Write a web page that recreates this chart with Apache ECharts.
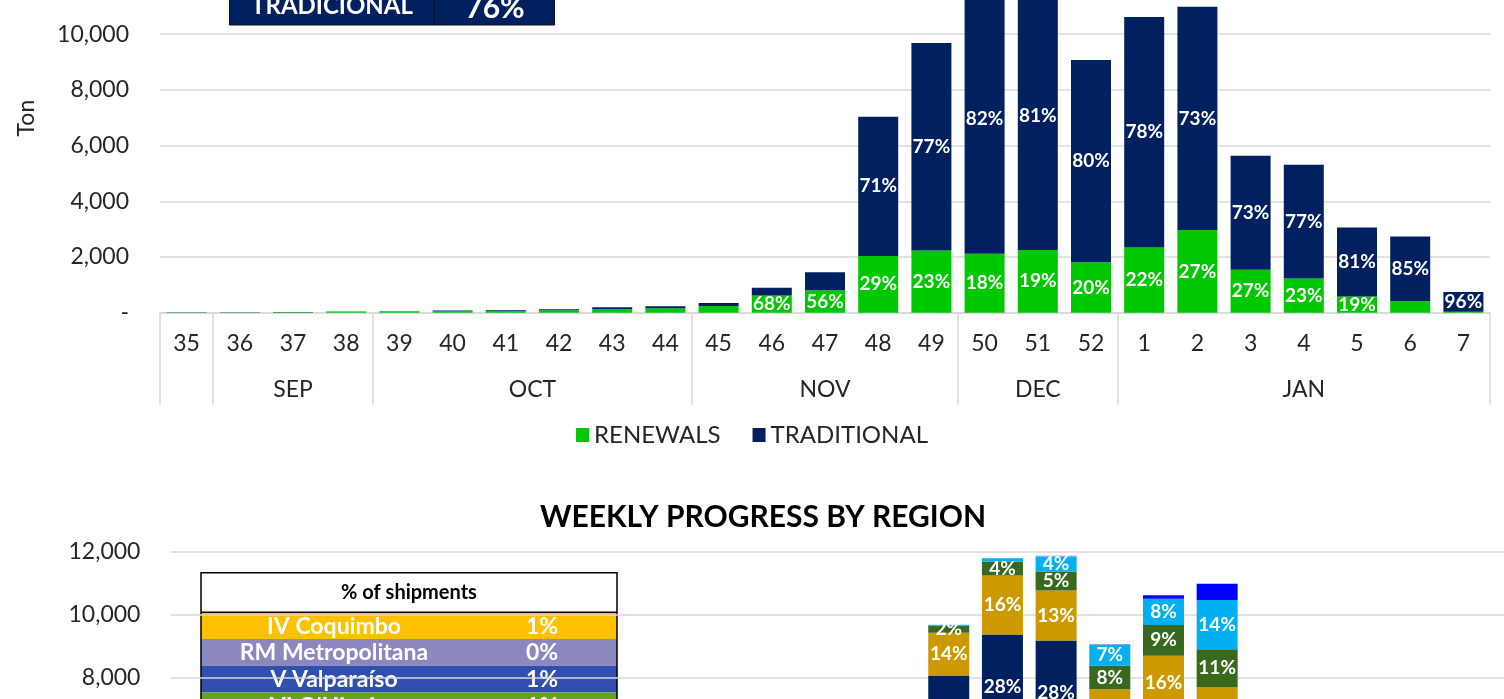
<!DOCTYPE html>
<html>
<head>
<meta charset="utf-8">
<title>Weekly shipments</title>
<script src="https://cdn.jsdelivr.net/npm/echarts@6/dist/echarts.min.js"></script>
<style>
  html, body { margin: 0; padding: 0; background: #fff; }
  #chart { width: 1504px; height: 699px; }
</style>
</head>
<body>
<div id="chart"></div>
<script>
// weeks on the axis, grouped by month
const weeks = ['35', '36', '37', '38', '39', '40', '41', '42', '43', '44', '45', '46', '47', '48', '49',
  '50', '51', '52', '1', '2', '3', '4', '5', '6', '7'];
const months = ['', 'SEP', 'OCT', 'NOV', 'DEC', 'JAN'];
const monthSpans = [1, 3, 6, 5, 3, 7];

// tons per week
const renewals = [10, 10, 20, 30, 40, 60, 70, 90, 130, 160, 240, 615, 810, 2040, 2230,
  2120, 2255, 1815, 2340, 2966, 1540, 1230, 580, 410, 30];
const traditional = [5, 5, 5, 10, 15, 20, 30, 30, 70, 70, 110, 285, 640, 5000, 7450,
  9672, 9615, 7255, 8276, 8020, 4100, 4080, 2480, 2330, 710];

const summaryRow = ['TRADICIONAL', '76%'];

// weekly progress by region (only weeks 49..2 reach the visible part)
const regionNames = ['X Los Lagos', 'IX Araucanía', 'VIII Biobío', 'VII Maule', "VI O'Higgins", 'V Valparaíso', 'RM Metropolitana'];
const regionColors = ['#a5a5a5', '#002060', '#cc9900', '#38691f', '#00b0f0', '#0000ff', '#8f86e8'];
const _ = null;
const regionValues = [
  [_, _, _, _, _, _, _, _, _, _, _, _, _, _, 5370, 6066, 5860, 3913, 4015, 3236, _, _, _, _, _],
  [_, _, _, _, _, _, _, _, _, _, _, _, _, _, 2700, 3302, 3324, 2540, 2970, 3070, _, _, _, _, _],
  [_, _, _, _, _, _, _, _, _, _, _, _, _, _, 1360, 1873, 1587, 1180, 1715, 1400, _, _, _, _, _],
  [_, _, _, _, _, _, _, _, _, _, _, _, _, _, 230, 445, 603, 750, 974, 1196, _, _, _, _, _],
  [_, _, _, _, _, _, _, _, _, _, _, _, _, _, 20, 106, 476, 667, 836, 1566, _, _, _, _, _],
  [_, _, _, _, _, _, _, _, _, _, _, _, _, _, _, _, _, _, 106, 518, _, _, _, _, _],
  [_, _, _, _, _, _, _, _, _, _, _, _, _, _, _, _, 20, 20, _, _, _, _, _, _, _]
];
const regionLabelled = [false, true, true, true, true, false, false];

const shipmentRegions = ['IV Coquimbo', 'RM Metropolitana', 'V Valparaíso', "VI O'Higgins"];
const shipmentShares = ['1%', '0%', '1%', '1%'];
const shipmentColors = ['#ffc000', '#8b88c0', '#304fae', '#6aa121'];

const FONT = 'Lato';
const GRID_LINE = '#d9d9d9';
const TEXT = '#262626';

// month axis: two slots per week, labels on group centres, ticks on group edges
const monthSlots = new Array(weeks.length * 2 + 1).fill('');
const monthEdges = [0];
let start = 0;
months.forEach((m, i) => {
  monthSlots[start * 2 + monthSpans[i]] = m;
  start += monthSpans[i];
  monthEdges.push(start * 2);
});

const weekTotals = weeks.map((w, i) => regionValues.reduce((s, arr) => s + (arr[i] || 0), 0));

const fmtTon = v => (v === 0 ? '-' : v.toLocaleString('en-US'));

const barLabel = {
  show: true,
  position: 'inside',
  color: '#fff',
  fontFamily: FONT,
  fontWeight: 'bold',
  fontSize: 19
};

const chart = echarts.init(document.getElementById('chart'));

const regionSeries = regionNames.map((name, k) => ({
  name: name,
  type: 'bar',
  stack: 'region',
  xAxisIndex: 2,
  yAxisIndex: 1,
  barWidth: 41,
  data: regionValues[k],
  itemStyle: { color: regionColors[k] },
  label: Object.assign({}, barLabel, {
    formatter: p => {
      if (!regionLabelled[k] || p.value == null) return '';
      const pct = Math.round(p.value / weekTotals[p.dataIndex] * 100);
      return pct >= 2 ? pct + '%' : '';
    }
  })
}));

chart.setOption({
  animation: false,
  textStyle: { fontFamily: FONT },
  title: {
    text: 'WEEKLY PROGRESS BY REGION',
    left: 758,
    top: 497,
    textAlign: 'center',
    textStyle: { fontFamily: FONT, fontSize: 30, fontWeight: 'bold', color: '#000' }
  },
  legend: {
    data: ['RENEWALS', 'TRADITIONAL'],
    left: 'center',
    top: 418,
    icon: 'rect',
    itemWidth: 13,
    itemHeight: 14,
    itemGap: 32,
    textStyle: { fontFamily: FONT, fontSize: 24, color: TEXT }
  },
  grid: [
    { left: 160, width: 1330, top: -21.5, height: 334.2, outerBoundsMode: 'none', containLabel: false },
    { left: 170.4, width: 1342, top: 551.7, height: 378, outerBoundsMode: 'none', containLabel: false }
  ],
  xAxis: [
    {
      type: 'category',
      gridIndex: 0,
      position: 'bottom',
      data: weeks,
      axisLine: { lineStyle: { color: GRID_LINE, width: 1.5 } },
      axisTick: { show: false },
      axisLabel: { interval: 0, margin: 19, fontSize: 23, color: TEXT, fontFamily: FONT }
    },
    {
      type: 'category',
      gridIndex: 0,
      position: 'bottom',
      boundaryGap: false,
      data: monthSlots,
      axisLine: { show: false },
      axisTick: {
        show: true,
        interval: idx => monthEdges.includes(idx),
        length: 92,
        lineStyle: { color: GRID_LINE, width: 1.5 }
      },
      axisLabel: { interval: 0, margin: 65, fontSize: 23, color: TEXT, fontFamily: FONT }
    },
    {
      type: 'category',
      gridIndex: 1,
      data: weeks,
      show: false
    }
  ],
  yAxis: [
    {
      type: 'value',
      gridIndex: 0,
      min: 0,
      max: 12000,
      interval: 2000,
      name: 'Ton',
      nameLocation: 'middle',
      nameRotate: 90,
      nameGap: 122,
      nameTextStyle: { fontFamily: FONT, fontSize: 23, color: TEXT, padding: [0, 0, 0, 55] },
      axisLine: { show: false },
      axisTick: { show: false },
      axisLabel: { margin: 31, fontSize: 23, color: TEXT, fontFamily: FONT, formatter: fmtTon },
      splitLine: { lineStyle: { color: GRID_LINE, width: 1.5 } }
    },
    {
      type: 'value',
      gridIndex: 1,
      min: 0,
      max: 12000,
      interval: 2000,
      axisLine: { show: false },
      axisTick: { show: false },
      axisLabel: { margin: 30, fontSize: 23, color: TEXT, fontFamily: FONT, formatter: fmtTon },
      splitLine: { lineStyle: { color: GRID_LINE, width: 1.5 } }
    }
  ],
  series: [
    {
      name: 'RENEWALS',
      type: 'bar',
      stack: 'total',
      barWidth: 40,
      data: renewals,
      itemStyle: { color: '#00c800' },
      label: Object.assign({}, barLabel, {
        formatter: p => {
          const i = p.dataIndex;
          if (renewals[i] < 500) return '';
          return Math.round(renewals[i] / (renewals[i] + traditional[i]) * 100) + '%';
        }
      })
    },
    {
      name: 'TRADITIONAL',
      type: 'bar',
      stack: 'total',
      barWidth: 40,
      data: traditional,
      itemStyle: { color: '#002060' },
      label: Object.assign({}, barLabel, {
        formatter: p => {
          const i = p.dataIndex;
          if (traditional[i] < 680) return '';
          return Math.round(traditional[i] / (renewals[i] + traditional[i]) * 100) + '%';
        }
      })
    }
  ].concat(regionSeries),
  graphic: [
    // summary box at the top
    {
      type: 'group',
      children: [
        { type: 'rect', shape: { x: 229.5, y: -20, width: 325, height: 45 },
          style: { fill: '#002060', stroke: '#111', lineWidth: 1 } },
        { type: 'line', shape: { x1: 434, y1: -20, x2: 434, y2: 25 },
          style: { stroke: '#111', lineWidth: 1 } },
        { type: 'text', x: 332, y: 6, style: { text: summaryRow[0], fill: '#fff', align: 'center',
          verticalAlign: 'middle', font: 'bold 24px Lato' } },
        { type: 'text', x: 495, y: 8, style: { text: summaryRow[1], fill: '#fff', align: 'center',
          verticalAlign: 'middle', font: 'bold 30px Lato' } }
      ]
    },
    // % of shipments table
    {
      type: 'group',
      children: [
        { type: 'rect', shape: { x: 201, y: 572.7, width: 416, height: 39.6 },
          style: { fill: '#fff' } },
        { type: 'text', x: 409, y: 593, style: { text: '% of shipments', fill: '#000', align: 'center',
          verticalAlign: 'middle', font: 'bold 20px Lato' } }
      ].concat(shipmentRegions.flatMap((r, i) => {
        const y0 = 612.3 + i * 26.7;
        return [
          { type: 'rect', shape: { x: 201, y: y0, width: 416, height: 26.7 },
            style: { fill: shipmentColors[i] } },
          { type: 'text', x: 334, y: y0 + 14, style: { text: r, fill: '#fff', align: 'center',
            verticalAlign: 'middle', font: 'bold 23px Lato' } },
          { type: 'text', x: 542, y: y0 + 14, style: { text: shipmentShares[i], fill: '#fff', align: 'center',
            verticalAlign: 'middle', font: 'bold 23px Lato' } }
        ];
      })).concat([
        { type: 'rect', shape: { x: 201, y: 572.7, width: 416, height: 200 },
          style: { fill: 'none', stroke: '#000', lineWidth: 1.5 } },
        { type: 'line', shape: { x1: 201, y1: 612.3, x2: 617, y2: 612.3 },
          style: { stroke: '#000', lineWidth: 1.5 } }
      ])
    }
  ]
});
</script>
</body>
</html>
